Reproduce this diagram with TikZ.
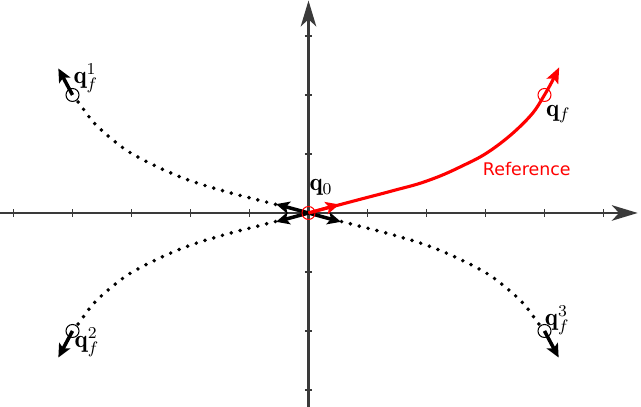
\documentclass[tikz,border=0pt]{standalone}
\usepackage{fontspec}
\newfontfamily\dejavu{DejaVu Sans}
\usetikzlibrary{arrows.meta}
\definecolor{axisgray}{HTML}{3A3A3A}
\tikzset{
  axisline/.style={draw=axisgray, line width=1pt, -{Stealth[length=12.5pt,width=7.5pt,inset=3.5pt]}},
  tickline/.style={draw=axisgray, line width=0.6pt},
  refline/.style={draw=red, line width=1.5pt},
  dotline/.style={draw=black, line width=1.9pt, line cap=round, dash pattern=on 0pt off 4.4pt},
  vecarrow/.style={line width=1.7pt, -{Stealth[length=6.5pt,width=6pt,inset=1.5pt]}},
  ptcircle/.style={circle, draw, line width=0.5pt, minimum size=0.22cm, inner sep=0pt},
  qlabel/.style={anchor=base west, inner sep=0pt, font=\fontsize{12}{14}\selectfont},
}
\begin{document}
\begin{tikzpicture}
\useasboundingbox (-5.229,-3.288) rectangle (5.636,3.610);
% axes
\coordinate (xl) at (-5.229,0);
\coordinate (xr) at (5.58,0);
\coordinate (yb) at (0,-3.288);
\coordinate (yt) at (0,3.60);
\draw[axisline] (xl) -- (xr);
\draw[axisline] (yb) -- (yt);
\foreach \i in {-5,-4,-3,-2,-1,1,2,3,4,5} \draw[tickline] (\i,-0.06) -- (\i,0.06);
\foreach \i in {-3,-2,-1,1,2,3} \draw[tickline] (-0.06,\i) -- (0.06,\i);
% points
\coordinate (O) at (0,0);
\coordinate (Qf) at (4,2);
\coordinate (Q1) at (-4,2);
\coordinate (Q2) at (-4,-2);
\coordinate (Q3) at (4,-2);
% dotted curves
\foreach \sx/\sy in {-1/1,-1/-1,1/-1}{
  \begin{scope}[xscale=\sx, yscale=\sy]
    \draw[dotline] plot[smooth, tension=0.55] coordinates {(0.56,0.145) (0.85,0.22) (1.43,0.37) (2.04,0.56) (2.6,0.8) (3.11,1.08) (3.6,1.49) (3.88,1.85) (4,2.0)};
    \draw[vecarrow] (0,0) -- (0.55,0.15);
    \draw[vecarrow] (4,2) -- (4.24,2.45);
    \node[ptcircle] at (4,2) {};
  \end{scope}
}
% reference curve
\draw[refline, -{Stealth[length=7.5pt,width=6pt,inset=1.5pt]}] plot[smooth, tension=0.7] coordinates {(0,0) (0.87,0.23) (1.44,0.38) (2.0,0.54) (2.57,0.78) (3.13,1.09) (3.70,1.58) (4,2.0) (4.25,2.47)};
\draw[refline, line width=1.5pt, -{Stealth[length=6.5pt,width=6pt,inset=1.5pt]}] (O) -- (0.52,0.145);
\node[ptcircle, draw=red] (c0) at (O) {};
\node[ptcircle, draw=red] (cf) at (Qf) {};
% labels
\node[qlabel] (l0) at (0.01,0.38) {$\mathbf{q}_0$};
\node[qlabel] (lf) at (4.02,1.64) {$\mathbf{q}_f$};
\node[qlabel] (l1) at (-3.99,2.2) {$\mathbf{q}_f^1$};
\node[qlabel] (l2) at (-3.97,-2.28) {$\mathbf{q}_f^2$};
\node[qlabel] (l3) at (4.0,-1.91) {$\mathbf{q}_f^3$};
\node[anchor=base west, inner sep=0pt, text=red, font=\dejavu\fontsize{8.4}{10}\selectfont] (lref) at (2.95,0.627) {Reference};
\end{tikzpicture}
\end{document}
